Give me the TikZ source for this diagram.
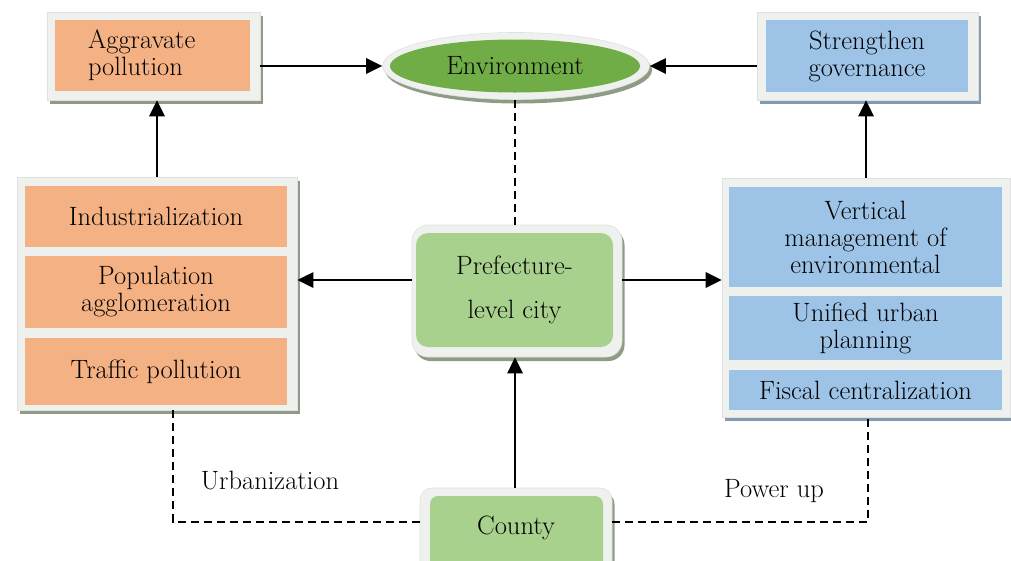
\documentclass[tikz,border=0pt]{standalone}
\usepackage{fontspec}
\setmainfont{Latin Modern Roman}
\usetikzlibrary{arrows.meta,shadows,shapes.geometric}
\definecolor{orangefill}{HTML}{F4B183}
\definecolor{bluefill}{HTML}{9DC3E6}
\definecolor{lightgreen}{HTML}{A9D18E}
\definecolor{darkgreen}{HTML}{70AD47}
\definecolor{framegrey}{HTML}{EFF1EF}
\definecolor{shadegreen}{HTML}{8E9C86}
\definecolor{shadeblue}{HTML}{8499B3}
\begin{document}
\begin{tikzpicture}[x=1pt,y=-1pt,
  txt/.style={font=\fontsize{26.5}{27}\selectfont, text=black, align=center},
  frame/.style={fill=framegrey, draw=black!12, line width=0.6pt, inner sep=0pt,
    drop shadow={shadow xshift=2.5pt, shadow yshift=-4pt, opacity=1, fill=#1}},
  frame/.default=shadegreen,
  obox/.style={txt, fill=orangefill, inner sep=0pt, minimum width=262pt},
  bbox/.style={txt, fill=bluefill, inner sep=0pt, minimum width=273pt},
  arr/.style={line width=2.8pt, -{Triangle[length=16pt,width=15pt]}},
  dashline/.style={line width=2.2pt, dash pattern=on 8pt off 5pt}
]
\useasboundingbox (0,0) rectangle (1011,560);

% top row
\node[frame, minimum width=213pt, minimum height=88pt] (aggframe) at (153.5,56) {};
\node[txt, fill=orangefill, minimum height=71pt, text width=129pt, inner xsep=33pt,
      inner ysep=0pt, align=left] (agg) at (152.5,55.5) {Aggravate\\pollution};

\node[frame=shadegreen, ellipse, minimum width=267pt, minimum height=67pt] (envframe) at (516,66) {};
\node[txt, ellipse, fill=darkgreen, minimum width=250pt, minimum height=53pt, inner sep=0pt] (env) at (515,66) {Environment};

\node[frame=shadeblue, minimum width=221pt, minimum height=88pt] (strframe) at (867.5,56) {};
\node[txt, fill=bluefill, minimum width=202pt, minimum height=72pt, inner sep=0pt] (str) at (867,56) {Strengthen\\governance};

% left group
\node[frame, minimum width=280pt, minimum height=233pt] (leftframe) at (157,293.5) {};
\node[obox, minimum height=61pt] (ind) at (156,216.5) {Industrialization};
\node[obox, minimum height=72pt] (pop) at (156,292) {Population\\agglomeration};
\node[obox, minimum height=67pt] (traf) at (156,371.5) {Traffic pollution};

% centre
\node[frame, rounded corners=16pt, minimum width=210pt, minimum height=132pt] (prefframe) at (517,291) {};
\node[txt, font=\fontsize{26.5}{44}\selectfont, fill=lightgreen, rounded corners=12pt,
      minimum width=197pt, minimum height=114pt, inner sep=0pt] (pref) at (514.5,290) {Prefecture-\\level city};

% right group
\node[frame=shadeblue, minimum width=288pt, minimum height=239pt] (rightframe) at (866,297.5) {};
\node[bbox, minimum height=100pt] (vert) at (865.5,237) {Vertical\\management of\\environmental};
\node[bbox, minimum height=64pt] (unif) at (865.5,328) {Unified urban\\planning};
\node[bbox, minimum height=40pt] (fisc) at (865.5,390) {Fiscal centralization};

% bottom
\node[frame, rounded corners=12pt, minimum width=192pt, minimum height=90pt] (countyframe) at (516,533) {};
\node[txt, fill=lightgreen, rounded corners=8pt, minimum width=173pt, minimum height=80pt,
      inner sep=0pt] (countybox) at (516.5,536) {};
\node[txt] (county) at (516,528) {County};

\node[txt] (urb) at (270,481) {Urbanization};
\node[txt] (pow) at (774,491) {Power up};

% connectors
\draw[arr] (aggframe.east |- env) -- (envframe.west);
\draw[arr] (strframe.west |- env) -- (envframe.east);
\draw[arr] (leftframe.north) -- (leftframe.north |- aggframe.south);
\draw[arr] (rightframe.north) -- (rightframe.north |- strframe.south);
\draw[arr] ([yshift=11pt]prefframe.west) -- ([yshift=11pt]prefframe.west -| leftframe.east);
\draw[arr] ([yshift=11pt]prefframe.east) -- ([yshift=11pt]prefframe.east -| rightframe.west);
\draw[arr] (countyframe.north -| env) -- (prefframe.south -| env);
\draw[dashline] (envframe.south -| env) -- (prefframe.north -| env);

\coordinate (ucorner) at (173,522);
\coordinate (pcorner) at (868,522);
\draw[dashline] (leftframe.south -| ucorner) -- (ucorner) -- (ucorner -| countyframe.west);
\draw[dashline] (countyframe.east |- pcorner) -- (pcorner) -- (pcorner |- rightframe.south);
\end{tikzpicture}
\end{document}
